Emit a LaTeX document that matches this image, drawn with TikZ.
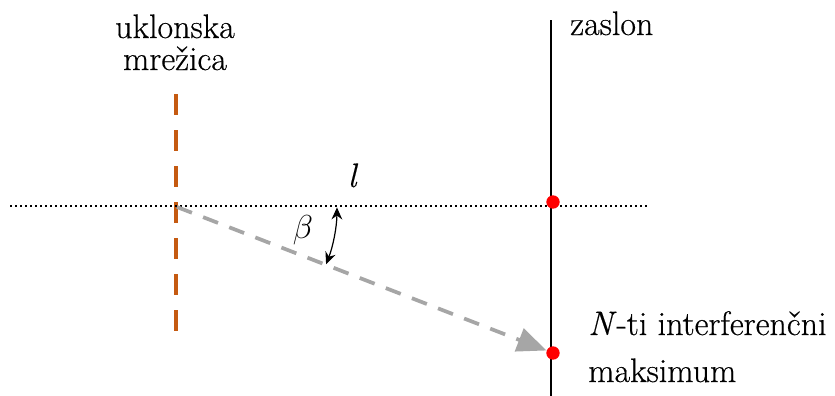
\documentclass[tikz,border=0pt]{standalone}
\usepackage{fontspec}
\setmainfont{Latin Modern Roman}[FakeBold=0.4]
\usetikzlibrary{arrows.meta}
\definecolor{grating}{RGB}{197,90,17}
\definecolor{raygray}{RGB}{166,166,166}
\begin{document}
\begin{tikzpicture}[x=0.75pt,y=0.75pt,
  lbl/.style={font=\fontsize{25.5}{30}\selectfont, inner sep=0pt},
  gratingline/.style={draw=grating, line width=3pt, dash pattern=on 15.75pt off 11.25pt},
  axisline/.style={draw=black, line width=1.5pt, dash pattern=on 1.5pt off 2.25pt},
  screenline/.style={draw=black, line width=1.8pt},
  rayline/.style={draw=raygray, line width=2.8pt, dash pattern=on 12pt off 9pt,
    -{Triangle[length=22pt,width=18pt]}},
  reddot/.style={circle, fill=red, minimum size=10pt, inner sep=0pt},
  anglearc/.style={draw=black, line width=0.9pt, {Stealth[length=9pt,width=8pt]}-{Stealth[length=9pt,width=8pt]}}
]
\useasboundingbox (0,0) rectangle (835,-396);

% grating
\coordinate (gtop) at (176,-94);
\coordinate (gbot) at (176,-331);
\draw[gratingline] (gtop) -- (gbot);

% optical axis
\coordinate (axL) at (10,-206);
\coordinate (axR) at (648,-206);
\draw[axisline] (axL) -- (axR);

% screen
\coordinate (stop) at (551,-20);
\coordinate (sbot) at (551,-396);
\draw[screenline] (stop) -- (sbot);

% dots
\node[reddot] (d0) at (553,-202) {};
\node[reddot] (dN) at (553,-353) {};

% ray
\coordinate (origin) at (177,-207);
\draw[rayline] (origin) -- (dN);

% angle arc
\coordinate (c) at (176,-206);
\draw[anglearc] ([shift={(-0.5:161)}]c) arc[start angle=-0.5, end angle=-21.2, radius=161];

% labels
\node[lbl, anchor=base] (t1) at (175,-38) {uklonska};
\node[lbl, anchor=base] (t2) at (175,-70) {mrežica};
\node[lbl, anchor=base west] (t3) at (570,-35) {zaslon};
\node[lbl, anchor=base west] (t4) at (588,-335) {\textit{N}-ti interferenčni};
\node[lbl, anchor=base west] (t5) at (588,-382) {maksimum};
\node[lbl, anchor=base] (tl) at (353,-187) {\textit{l}};
\node[lbl, anchor=center] (tb) at (303,-230) {$\beta$};
\end{tikzpicture}
\end{document}
